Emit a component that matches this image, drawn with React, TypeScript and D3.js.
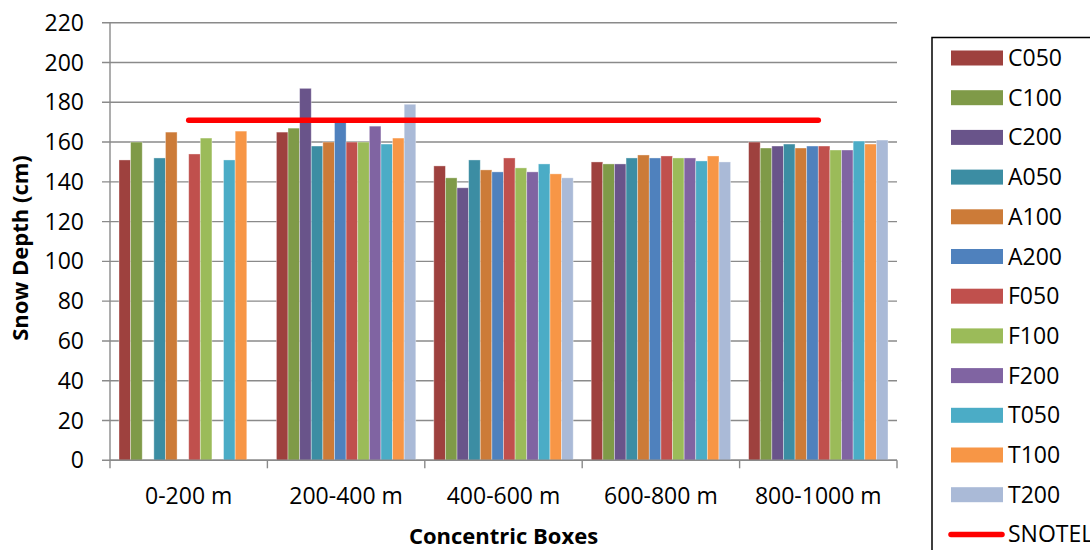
import React from "react";
import * as d3 from "d3";

const categories = ["0-200 m", "200-400 m", "400-600 m", "600-800 m", "800-1000 m"];
const seriesNames = ["C050", "C100", "C200", "A050", "A100", "A200", "F050", "F100", "F200", "T050", "T100", "T200"];
const seriesColors = ["#9E413E", "#7F9A48", "#69548A", "#3C8DA3", "#CC7B38", "#4F81BD", "#C0504D", "#9BBB59", "#8064A2", "#4BACC6", "#F79646", "#AABAD7"];
const C050 = [151, 165, 148, 150, 160];
const C100 = [160, 167, 142, 149, 157];
const C200 = [null, 187, 137, 149, 158];
const A050 = [152, 158, 151, 152, 159];
const A100 = [165, 160, 146, 153.5, 157];
const A200 = [null, 170, 145, 152, 158];
const F050 = [154, 160, 152, 153, 158];
const F100 = [162, 160, 147, 152, 156];
const F200 = [null, 168, 145, 152, 156];
const T050 = [151, 159, 149, 150.5, 160.5];
const T100 = [165.5, 162, 144, 153, 159];
const T200 = [null, 179, 142, 150, 161];
const SNOTEL = [171, 171, 171, 171, 171];
const yTicks = [0, 20, 40, 60, 80, 100, 120, 140, 160, 180, 200, 220];

const seriesValues: (number | null)[][] = [C050, C100, C200, A050, A100, A200, F050, F100, F200, T050, T100, T200];

const FONT = "'Open Sans', sans-serif";

export default function App() {
  const left = 110, right = 897, top = 22.7, bottom = 460.3;
  const x = d3.scaleBand<string>().domain(categories).range([left, right]).padding(0);
  const bw = x.bandwidth();
  const xs = d3.scaleBand<string>().domain(seriesNames).range([9, bw - 9]).padding(0);
  const y = d3.scaleLinear().domain([0, 220]).range([bottom, top]);
  const line = d3.line<number>()
    .x((_, i) => (x(categories[i]) as number) + bw / 2)
    .y((d) => y(d));

  return (
    <svg width={1090} height={550} style={{ position: "absolute", left: 0, top: 0, background: "#fff" }} fontFamily={FONT}>
      {/* gridlines */}
      {yTicks.map((t) => (
        <line key={"g" + t} x1={left - 8} x2={right} y1={y(t)} y2={y(t)} stroke="#8A8A8A" strokeWidth={1.4} />
      ))}
      {/* bars */}
      {seriesNames.map((s, si) =>
        seriesValues[si].map((v, ci) =>
          v == null ? null : (
            <rect
              key={s + ci}
              x={(x(categories[ci]) as number) + (xs(s) as number)}
              y={y(v)}
              width={xs.bandwidth()}
              height={y(0) - y(v)}
              fill={seriesColors[si]}
              stroke="rgba(255,255,255,0.45)"
              strokeWidth={0.8}
            />
          )
        )
      )}
      {/* axes */}
      <line x1={left} x2={left} y1={top} y2={bottom} stroke="#8A8A8A" strokeWidth={1.4} />
      <line x1={left} x2={right} y1={bottom} y2={bottom} stroke="#8A8A8A" strokeWidth={1.4} />
      {d3.range(categories.length + 1).map((i) => {
        const xx = left + i * bw;
        return <line key={"xt" + i} x1={xx} x2={xx} y1={bottom} y2={bottom + 8} stroke="#8A8A8A" strokeWidth={1.4} />;
      })}
      {/* SNOTEL */}
      <path d={line(SNOTEL) as string} fill="none" stroke="#FF0000" strokeWidth={5.5} strokeLinecap="round" />
      {/* y tick labels */}
      {yTicks.map((t) => (
        <text key={"yl" + t} x={84} y={y(t)} dy="0.35em" textAnchor="end" fontSize={23} fill="#000">
          {t}
        </text>
      ))}
      {/* x labels */}
      {categories.map((c) => (
        <text key={c} x={(x(c) as number) + bw / 2} y={504} textAnchor="middle" fontSize={23} fill="#000">
          {c}
        </text>
      ))}
      <text x={(left + right) / 2} y={544} textAnchor="middle" fontSize={22} fontWeight="bold" fill="#000">
        Concentric Boxes
      </text>
      <text transform={`translate(28,248) rotate(-90)`} textAnchor="middle" fontSize={22} fontWeight="bold" fill="#000">
        Snow Depth (cm)
      </text>
      {/* legend */}
      <rect x={932} y={37.5} width={200} height={600} fill="#fff" stroke="#000" strokeWidth={1.5} />
      {seriesNames.map((s, i) => {
        const cy = 58 + i * 39.7;
        return (
          <g key={"lg" + s}>
            <rect x={951} y={cy - 7.5} width={52} height={15} fill={seriesColors[i]} />
            <text x={1008} y={cy} dy="0.35em" fontSize={23} fill="#000">{s}</text>
          </g>
        );
      })}
      <g>
        <line x1={951} x2={1002} y1={58 + 12 * 39.7} y2={58 + 12 * 39.7} stroke="#FF0000" strokeWidth={5.5} strokeLinecap="round" />
        <text x={1008} y={58 + 12 * 39.7} dy="0.35em" fontSize={23} fill="#000">SNOTEL</text>
      </g>
    </svg>
  );
}
